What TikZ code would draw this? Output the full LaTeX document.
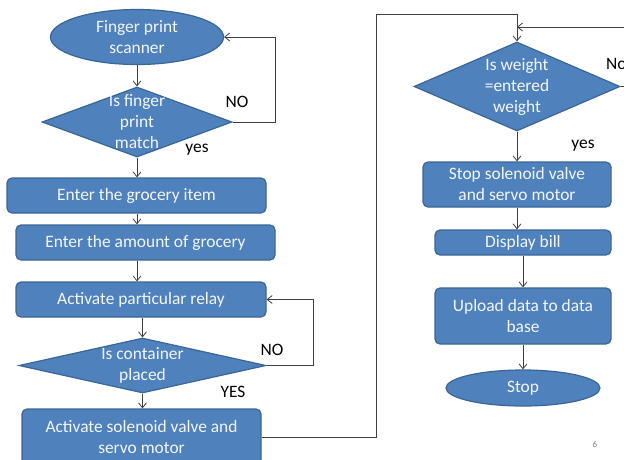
\documentclass[tikz,border=0pt]{standalone}
\usepackage{fontspec}
\setmainfont{Carlito}
\usetikzlibrary{shapes.geometric,arrows.meta}
\definecolor{boxfill}{HTML}{4F81BD}
\definecolor{boxline}{HTML}{3A6696}
\definecolor{lineclr}{HTML}{404040}
\definecolor{txtclr}{HTML}{F4F7FB}
\begin{document}
\begin{tikzpicture}[x=1pt,y=-1pt,
  font=\fontsize{17.4}{21}\selectfont,
  proc/.style={draw=boxline, line width=1.2pt, fill=boxfill, rounded corners=5pt, text=txtclr, align=center, inner sep=0pt},
  term/.style={ellipse, draw=boxline, line width=1.2pt, fill=boxfill, text=txtclr, align=center, inner sep=0pt},
  dec/.style={diamond, draw=boxline, line width=1.2pt, fill=boxfill, inner sep=0pt},
  dl/.style={text=txtclr, align=center, inner sep=0pt},
  conn/.style={draw=lineclr, line width=0.8pt},
  arr/.style={conn, -{Straight Barb[length=5pt,width=8pt]}},
  ann/.style={text=black, inner sep=0pt}
]
\clip (0,0) rectangle (624,459);
\fill[white] (0,0) rectangle (624,459);

% left column
\node[term, minimum width=173pt, minimum height=55pt] (scan) at (137,37) {Finger print\\scanner};
\node[dec, minimum width=190pt, minimum height=70pt, label={[dl]center:Is finger\\print\\match}] (d1) at (137,122) {};
\node[proc, minimum width=259pt, minimum height=35pt] (b1) at (136.5,195.5) {Enter the grocery item};
\node[proc, minimum width=259pt, minimum height=35pt] (b2) at (145.5,242.5) {Enter the amount of grocery};
\node[proc, minimum width=250pt, minimum height=35pt] (b3) at (141,299.5) {Activate particular relay};
\node[dec, minimum width=247pt, minimum height=55pt, label={[dl]center:Is container\\placed}] (d2) at (142.5,365.5) {};
\node[proc, minimum width=239pt, minimum height=56pt] (b4) at (141.5,437) {Activate solenoid valve and\\servo motor};

% right column
\node[dec, minimum width=206pt, minimum height=89pt, label={[dl]center:Is weight\\=entered\\weight}] (d3) at (517,86.5) {};
\node[proc, minimum width=188pt, minimum height=45pt] (b5) at (517,184.5) {Stop solenoid valve\\and servo motor};
\node[proc, minimum width=176pt, minimum height=25pt] (b6) at (523,242.5) {Display bill};
\node[proc, minimum width=176pt, minimum height=56pt] (b7) at (523,316) {Upload data to data\\base};
\node[term, minimum width=154pt, minimum height=36pt] (stop) at (523,388) {Stop};

% annotations
\node[ann] (no1) at (237,102) {NO};
\node[ann] (yes1) at (197,150) {yes};
\node[ann] (no2) at (272,350) {NO};
\node[ann] (yes2) at (233,392) {YES};
\node[ann] (yes3) at (583,146) {yes};
\node[ann, anchor=west] (no3) at (606,64) {No};
\node[text=gray, font=\fontsize{9}{10}\selectfont] (pg) at (595,444) {6};

% connector helper points
\coordinate (top) at (376,14);
\coordinate (nojoin) at (517,27);

% connectors
\draw[arr] (scan.south) -- (d1.north);
\draw[arr] (d1.east) -- ++(43,0) |- (scan.east);
\draw[arr] (d1.south) -- (b1.north -| d1.south);
\draw[arr] (d1.south |- b1.south) -- (d1.south |- b2.north);
\draw[arr] (d1.south |- b2.south) -- (d1.south |- b3.north);
\draw[arr] (d2.north |- b3.south) -- (d2.north);
\draw[arr] (d2.east) -- ++(47,0) |- (b3.east);
\draw[arr] (d2.south) -- (d2.south |- b4.north);
\draw[arr] (b4.east) -| (top) -| (d3.north);
\draw[arr] (d3.east) -- ++(20,0) |- (nojoin);
\draw[arr] (d3.south) -- (d3.south |- b5.north);
\draw[arr] (b5.south) -- (b5.south |- b6.north);
\draw[arr] (b6.south) -- (b7.north);
\draw[arr] (b7.south) -- (stop.north);
\end{tikzpicture}
\end{document}
